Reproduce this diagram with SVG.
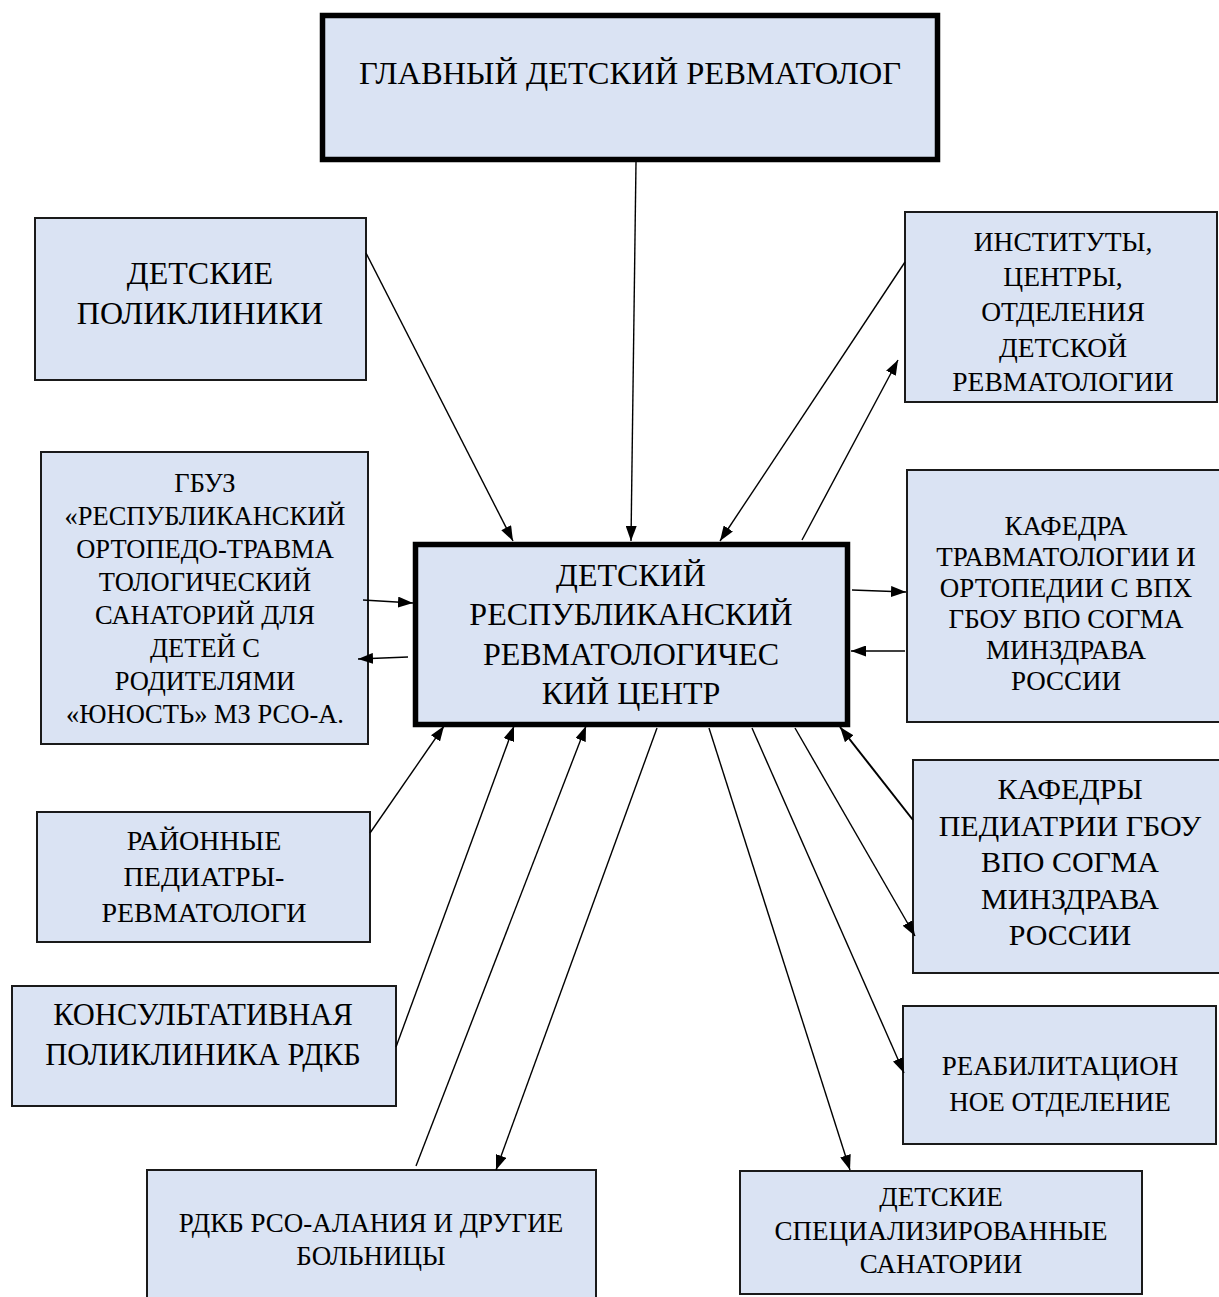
<svg xmlns="http://www.w3.org/2000/svg" width="1219" height="1297" viewBox="0 0 1219 1297">
<defs>
<style>
.box{fill:#dae3f3;stroke:#1a1a1a;stroke-width:2}
.thick{fill:#dae3f3;stroke:#000;stroke-width:5.5}
.t{font-family:"Liberation Serif","Times New Roman",serif;fill:#000;text-anchor:middle}
.con line{stroke:#000;stroke-width:1.4;fill:none}
</style>
<marker id="ah" viewBox="0 0 15 11" refX="15" refY="5.5" markerWidth="15" markerHeight="11" markerUnits="userSpaceOnUse" orient="auto">
<path d="M0,0 L15,5.5 L0,11 z" fill="#000"/>
</marker>
</defs>
<rect width="1219" height="1297" fill="#fff"/>

<g id="n-glav">
<rect class="thick" x="322.5" y="15.5" width="615" height="144"/>
<text class="t" x="630" y="84" font-size="32.5">ГЛАВНЫЙ ДЕТСКИЙ РЕВМАТОЛОГ</text>
</g>

<g id="n-center">
<rect class="thick" x="415.5" y="544.5" width="432" height="180"/>
<text class="t" font-size="32"><tspan x="631" y="586">ДЕТСКИЙ</tspan><tspan x="631" y="625">РЕСПУБЛИКАНСКИЙ</tspan><tspan x="631" y="665">РЕВМАТОЛОГИЧЕС</tspan><tspan x="631" y="704">КИЙ ЦЕНТР</tspan></text>
</g>

<g id="n-polikl">
<rect class="box" x="35" y="218" width="331" height="162"/>
<text class="t" font-size="32"><tspan x="200" y="284">ДЕТСКИЕ</tspan><tspan x="200" y="324">ПОЛИКЛИНИКИ</tspan></text>
</g>

<g id="n-gbuz">
<rect class="box" x="41" y="452" width="327" height="292"/>
<text class="t" font-size="26.5"><tspan x="205" y="492">ГБУЗ</tspan><tspan x="205" y="525">«РЕСПУБЛИКАНСКИЙ</tspan><tspan x="205" y="558">ОРТОПЕДО-ТРАВМА</tspan><tspan x="205" y="591">ТОЛОГИЧЕСКИЙ</tspan><tspan x="205" y="624">САНАТОРИЙ ДЛЯ</tspan><tspan x="205" y="657">ДЕТЕЙ С</tspan><tspan x="205" y="690">РОДИТЕЛЯМИ</tspan><tspan x="205" y="723">«ЮНОСТЬ» МЗ РСО-А.</tspan></text>
</g>

<g id="n-raion">
<rect class="box" x="37" y="812" width="333" height="130"/>
<text class="t" font-size="28"><tspan x="204" y="850">РАЙОННЫЕ</tspan><tspan x="204" y="886">ПЕДИАТРЫ-</tspan><tspan x="204" y="922">РЕВМАТОЛОГИ</tspan></text>
</g>

<g id="n-konsult">
<rect class="box" x="12" y="986" width="384" height="120"/>
<text class="t" font-size="30.5"><tspan x="203" y="1025">КОНСУЛЬТАТИВНАЯ</tspan><tspan x="203" y="1065">ПОЛИКЛИНИКА РДКБ</tspan></text>
</g>

<g id="n-rdkb">
<rect class="box" x="147" y="1170" width="449" height="140"/>
<text class="t" font-size="27"><tspan x="371" y="1232">РДКБ РСО-АЛАНИЯ И ДРУГИЕ</tspan><tspan x="371" y="1265">БОЛЬНИЦЫ</tspan></text>
</g>

<g id="n-inst">
<rect class="box" x="905" y="212" width="312" height="190"/>
<text class="t" font-size="27.5"><tspan x="1063" y="251">ИНСТИТУТЫ,</tspan><tspan x="1063" y="286">ЦЕНТРЫ,</tspan><tspan x="1063" y="321">ОТДЕЛЕНИЯ</tspan><tspan x="1063" y="357">ДЕТСКОЙ</tspan><tspan x="1063" y="391">РЕВМАТОЛОГИИ</tspan></text>
</g>

<g id="n-kafedra">
<rect class="box" x="907" y="470" width="322" height="252"/>
<text class="t" font-size="27"><tspan x="1066" y="535">КАФЕДРА</tspan><tspan x="1066" y="566">ТРАВМАТОЛОГИИ И</tspan><tspan x="1066" y="597">ОРТОПЕДИИ С ВПХ</tspan><tspan x="1066" y="628">ГБОУ ВПО СОГМА</tspan><tspan x="1066" y="659">МИНЗДРАВА</tspan><tspan x="1066" y="690">РОССИИ</tspan></text>
</g>

<g id="n-pediatr">
<rect class="box" x="913" y="760" width="316" height="213"/>
<text class="t" font-size="30"><tspan x="1070" y="799">КАФЕДРЫ</tspan><tspan x="1070" y="836">ПЕДИАТРИИ ГБОУ</tspan><tspan x="1070" y="872">ВПО СОГМА</tspan><tspan x="1070" y="909">МИНЗДРАВА</tspan><tspan x="1070" y="945">РОССИИ</tspan></text>
</g>

<g id="n-reab">
<rect class="box" x="903" y="1006" width="313" height="138"/>
<text class="t" font-size="27"><tspan x="1060" y="1075">РЕАБИЛИТАЦИОН</tspan><tspan x="1060" y="1111">НОЕ ОТДЕЛЕНИЕ</tspan></text>
</g>

<g id="n-sanat">
<rect class="box" x="740" y="1171" width="402" height="123"/>
<text class="t" font-size="27"><tspan x="941" y="1206">ДЕТСКИЕ</tspan><tspan x="941" y="1240">СПЕЦИАЛИЗИРОВАННЫЕ</tspan><tspan x="941" y="1273">САНАТОРИИ</tspan></text>
</g>

<g id="connectors" class="con">
<line x1="636" y1="162" x2="631" y2="541" marker-end="url(#ah)"/>
<line x1="366" y1="253" x2="513" y2="541" marker-end="url(#ah)"/>
<line x1="905" y1="262" x2="720" y2="541" marker-end="url(#ah)"/>
<line x1="802" y1="540" x2="898" y2="360" marker-end="url(#ah)"/>
<line x1="363" y1="600" x2="413" y2="603" marker-end="url(#ah)"/>
<line x1="408" y1="657" x2="358" y2="659" marker-end="url(#ah)"/>
<line x1="852" y1="590" x2="906" y2="592" marker-end="url(#ah)"/>
<line x1="905" y1="651" x2="851" y2="651" marker-end="url(#ah)"/>
<line x1="913" y1="820" x2="840" y2="727" marker-end="url(#ah)" style="stroke-width:2"/>
<line x1="795" y1="728" x2="915" y2="936" marker-end="url(#ah)"/>
<line x1="752" y1="728" x2="904" y2="1073" marker-end="url(#ah)"/>
<line x1="709" y1="728" x2="850" y2="1170" marker-end="url(#ah)"/>
<line x1="370" y1="833" x2="444" y2="726" marker-end="url(#ah)"/>
<line x1="396" y1="1047" x2="514" y2="726" marker-end="url(#ah)"/>
<line x1="416" y1="1166" x2="586" y2="726" marker-end="url(#ah)"/>
<line x1="657" y1="728" x2="496" y2="1170" marker-end="url(#ah)"/>
</g>
</svg>
